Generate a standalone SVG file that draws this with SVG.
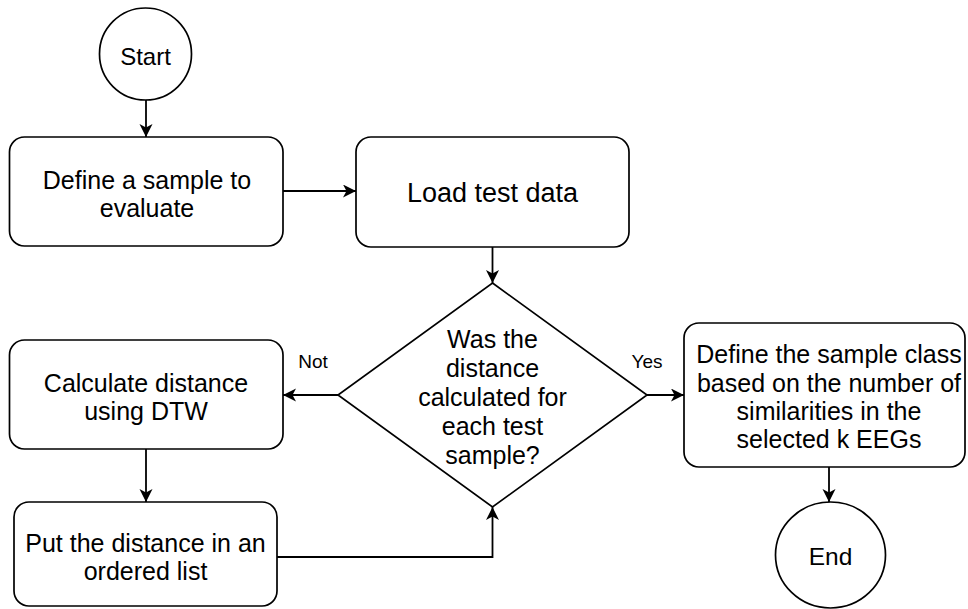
<svg xmlns="http://www.w3.org/2000/svg" width="968" height="609" viewBox="0 0 968 609">
<style>
.s{fill:#fff;stroke:#000;stroke-width:1.7}
.c{fill:none;stroke:#000;stroke-width:1.8}
.t{font-family:"Liberation Sans",Arial,sans-serif;font-size:25px;fill:#000;text-anchor:middle}
.l{font-family:"Liberation Sans",Arial,sans-serif;font-size:19px;fill:#000;text-anchor:middle}
</style>
<defs>
<marker id="a" markerUnits="userSpaceOnUse" markerWidth="14" markerHeight="14" refX="13" refY="6.5" orient="auto">
<path d="M0,0 L13,6.5 L0,13 L3.5,6.5 Z" fill="#000"/>
</marker>
</defs>
<rect width="968" height="609" fill="#fff"/>
<g id="connectors">
<line class="c" x1="146" y1="100" x2="146" y2="137" marker-end="url(#a)"/>
<line class="c" x1="283" y1="191" x2="356" y2="191" marker-end="url(#a)"/>
<line class="c" x1="492.5" y1="247" x2="492.5" y2="283" marker-end="url(#a)"/>
<line class="c" x1="338" y1="395" x2="283" y2="395" marker-end="url(#a)"/>
<line class="c" x1="146" y1="449" x2="146" y2="502" marker-end="url(#a)"/>
<polyline class="c" points="277,557 492.5,557 492.5,507" marker-end="url(#a)"/>
<line class="c" x1="647" y1="395" x2="684" y2="395" marker-end="url(#a)"/>
<line class="c" x1="829" y1="467" x2="829" y2="502" marker-end="url(#a)"/>
<text class="l" x="313" y="368">Not</text>
<text class="l" x="647" y="368">Yes</text>
</g>
<g id="start">
<circle class="s" cx="145.5" cy="54" r="46"/>
<text class="t" x="145.5" y="65" style="font-size:24px">Start</text>
</g>
<g id="define">
<rect class="s" x="9.5" y="137" width="273.5" height="109" rx="15"/>
<text class="t" x="147" y="189">Define a sample to</text>
<text class="t" x="147" y="217">evaluate</text>
</g>
<g id="load">
<rect class="s" x="356" y="137" width="273" height="110" rx="15"/>
<text class="t" x="492.5" y="202" style="font-size:27px">Load test data</text>
</g>
<g id="decision">
<polygon class="s" points="492.5,283 647,395 492.5,507 338,395"/>
<text class="t" x="492.5" y="348">Was the</text>
<text class="t" x="492.5" y="377">distance</text>
<text class="t" x="492.5" y="406">calculated for</text>
<text class="t" x="492.5" y="435">each test</text>
<text class="t" x="492.5" y="464">sample?</text>
</g>
<g id="calc">
<rect class="s" x="9.5" y="340" width="273.5" height="109" rx="15"/>
<text class="t" x="146" y="392">Calculate distance</text>
<text class="t" x="146" y="420">using DTW</text>
</g>
<g id="put">
<rect class="s" x="14" y="502" width="263" height="104" rx="15"/>
<text class="t" x="145.5" y="552">Put the distance in an</text>
<text class="t" x="145.5" y="580">ordered list</text>
</g>
<g id="classify">
<rect class="s" x="684" y="323" width="281" height="144" rx="15"/>
<text class="t" x="829" y="363">Define the sample class</text>
<text class="t" x="829" y="392">based on the number of</text>
<text class="t" x="829" y="420">similarities in the</text>
<text class="t" x="829" y="448">selected k EEGs</text>
</g>
<g id="end">
<ellipse class="s" cx="830.5" cy="555" rx="55" ry="53"/>
<text class="t" x="830.5" y="565" style="font-size:24.5px">End</text>
</g>
</svg>
